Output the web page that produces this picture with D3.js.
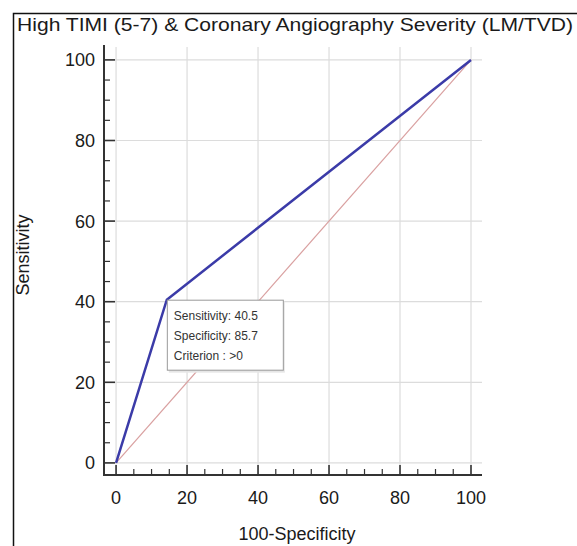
<!DOCTYPE html>
<html>
<head>
<meta charset="utf-8">
<script src="https://cdn.jsdelivr.net/npm/d3@7"></script>
<style>
  body { margin: 0; background: #fff; }
  svg { display: block; font-family: "Liberation Sans", Arial, sans-serif; }
</style>
</head>
<body>
<div id="viz-container"></div>
<script>
// ROC curve points (100-Specificity, Sensitivity)
const fpr = [0, 14.3, 100];
const tpr = [0, 40.5, 100];
const chanceX = [0, 100];
const chanceY = [0, 100];
const tickValues = [0, 20, 40, 60, 80, 100];
const minorTicks = d3.range(0, 101, 5).filter(v => v % 20 !== 0);
const tooltipLines = ["Sensitivity: 40.5", "Specificity: 85.7", "Criterion : >0"];
const tooltipIndex = 1;

const width = 577, height = 546;
const svg = d3.select("#viz-container").append("svg")
    .attr("width", width)
    .attr("height", height);

// frame
svg.append("path")
    .attr("d", `M13.5,${height} V13.5 H${width}`)
    .attr("fill", "none")
    .attr("stroke", "#111")
    .attr("stroke-width", 1.5);

svg.append("text")
    .attr("x", 17)
    .attr("y", 31)
    .attr("font-size", 19)
    .attr("fill", "#1a1a1a")
    .attr("textLength", 556)
    .attr("lengthAdjust", "spacingAndGlyphs")
    .text("High TIMI (5-7) & Coronary Angiography Severity (LM/TVD)");

const x = d3.scaleLinear().domain([-3.4, 103.1]).range([104, 482]);
const y = d3.scaleLinear().domain([-3.0, 103.2]).range([475, 47]);

// grid
svg.append("g").selectAll("line")
    .data(tickValues)
    .join("line")
    .attr("x1", d => x(d)).attr("x2", d => x(d))
    .attr("y1", y.range()[1]).attr("y2", y.range()[0])
    .attr("stroke", "#dcdcdc").attr("stroke-width", 1.2);
svg.append("g").selectAll("line")
    .data(tickValues)
    .join("line")
    .attr("y1", d => y(d)).attr("y2", d => y(d))
    .attr("x1", x.range()[0]).attr("x2", x.range()[1])
    .attr("stroke", "#dcdcdc").attr("stroke-width", 1.2);

// axes
const axisG = svg.append("g").attr("stroke", "#333");
axisG.append("line")
    .attr("x1", x.range()[0]).attr("x2", x.range()[0])
    .attr("y1", y.range()[1] - 2).attr("y2", y.range()[0])
    .attr("stroke-width", 2);
axisG.append("line")
    .attr("x1", x.range()[0] - 1).attr("x2", x.range()[1])
    .attr("y1", y.range()[0]).attr("y2", y.range()[0])
    .attr("stroke-width", 2);
axisG.selectAll(".ymaj").data(tickValues).join("line")
    .attr("x1", x.range()[0]).attr("x2", x.range()[0] + 11)
    .attr("y1", d => y(d)).attr("y2", d => y(d)).attr("stroke-width", 1.6);
axisG.selectAll(".ymin").data(minorTicks).join("line")
    .attr("x1", x.range()[0]).attr("x2", x.range()[0] + 6)
    .attr("y1", d => y(d)).attr("y2", d => y(d)).attr("stroke-width", 1.2);
axisG.selectAll(".xmaj").data(tickValues).join("line")
    .attr("y1", y.range()[0]).attr("y2", y.range()[0] - 10)
    .attr("x1", d => x(d)).attr("x2", d => x(d)).attr("stroke-width", 1.6);
axisG.selectAll(".xmin").data(minorTicks).join("line")
    .attr("y1", y.range()[0]).attr("y2", y.range()[0] - 6)
    .attr("x1", d => x(d)).attr("x2", d => x(d)).attr("stroke-width", 1.2);

svg.append("g").selectAll("text")
    .data(tickValues)
    .join("text")
    .attr("x", 95)
    .attr("y", d => y(d))
    .attr("dy", "0.36em")
    .attr("text-anchor", "end")
    .attr("font-size", 18)
    .attr("fill", "#1a1a1a")
    .text(d => d);
svg.append("g").selectAll("text")
    .data(tickValues)
    .join("text")
    .attr("x", d => x(d))
    .attr("y", 504)
    .attr("text-anchor", "middle")
    .attr("font-size", 18)
    .attr("fill", "#1a1a1a")
    .text(d => d);

svg.append("text")
    .attr("transform", `translate(29,255) rotate(-90)`)
    .attr("text-anchor", "middle")
    .attr("font-size", 18)
    .attr("fill", "#1a1a1a")
    .text("Sensitivity");
svg.append("text")
    .attr("x", 297)
    .attr("y", 540)
    .attr("text-anchor", "middle")
    .attr("font-size", 18)
    .attr("fill", "#1a1a1a")
    .text("100-Specificity");

// chance diagonal
svg.append("path")
    .datum(d3.zip(chanceX, chanceY))
    .attr("fill", "none")
    .attr("stroke", "#d9a0a0")
    .attr("stroke-width", 1.2)
    .attr("d", d3.line().x(d => x(d[0])).y(d => y(d[1])));

// ROC curve
svg.append("path")
    .datum(d3.zip(fpr, tpr))
    .attr("fill", "none")
    .attr("stroke", "#3b3ba8")
    .attr("stroke-width", 2.5)
    .attr("d", d3.line().x(d => x(d[0])).y(d => y(d[1])));

// tooltip
const tx = x(fpr[tooltipIndex]), ty = y(tpr[tooltipIndex]);
const tip = svg.append("g").attr("transform", `translate(${tx},${ty})`);
tip.append("rect")
    .attr("x", 2).attr("y", 2).attr("width", 116).attr("height", 71)
    .attr("fill", "#e6e6e6");
tip.append("rect")
    .attr("x", 0.5).attr("y", 0.5).attr("width", 116).attr("height", 70)
    .attr("fill", "#fff").attr("stroke", "#999").attr("stroke-width", 1);
tip.selectAll("text")
    .data(tooltipLines)
    .join("text")
    .attr("x", 7)
    .attr("y", (d, i) => 20 + i * 20)
    .attr("font-size", 12)
    .attr("fill", "#333")
    .text(d => d);
</script>
</body>
</html>
